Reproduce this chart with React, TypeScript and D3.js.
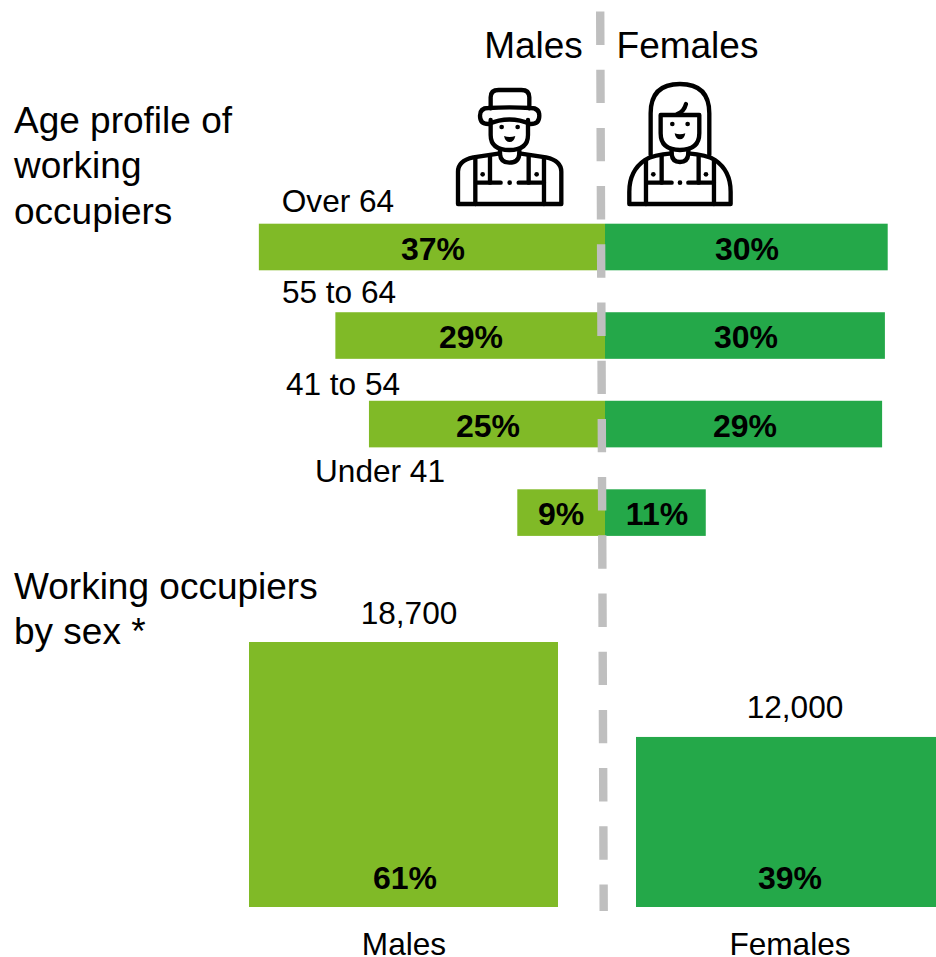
import React from "react";
import * as d3 from "d3";

const ageGroups = ["Over 64", "55 to 64", "41 to 54", "Under 41"];
const maleShare = [37.1, 28.9, 25.3, 9.4];
const femaleShare = [30.3, 30.0, 29.7, 10.8];
const maleLabels = ["37%", "29%", "25%", "9%"];
const femaleLabels = ["30%", "30%", "29%", "11%"];
const sexes = ["Males", "Females"];
const sexCounts = [18700, 12000];
const sexCountLabels = ["18,700", "12,000"];
const sexShareLabels = ["61%", "39%"];

const MALE = "#80BA27";
const FEMALE = "#24A849";
const DASH = "#BFBFBF";
const FONT = "'Liberation Sans', Arial, sans-serif";

const W = 936, H = 957;
const CENTER = 605;
const pct = d3.scaleLinear().domain([0, 40]).range([0, 373.2]);
const rowY = d3.scaleLinear().domain([0, 3]).range([223.7, 489.3]);
const ROW_H = 46.6;
const ageLabelX = [338, 339, 343, 380];
const ageLabelY = [212, 303, 395, 482];
const maleLabelX = [433, 471, 488, 561];
const femaleLabelX = [747, 746, 745, 657];

const countY = d3.scaleLinear().domain([0, 18700]).range([907, 642]);
const sexBarX = [249, 636];
const sexBarW = [309, 300];
const sexLabelX = [404, 790];
const sexCountX = [409, 795];

const dashPath = d3.line()([[600.2, 11.5], [603.7, 911]]) as string;

const iconStroke = { fill: "none", stroke: "#000", strokeWidth: 13, strokeLinecap: "round" as const, strokeLinejoin: "round" as const };

function MaleIcon() {
  return (
    <g transform="translate(440,0) scale(0.3333)">
      <g {...iconStroke}>
        <path d="M152 325 V292 Q152 270 176 270 H244 Q268 270 268 292 V325" />
        <path d="M145 372 Q120 372 120 347 Q120 324 145 324 Q208 320 272 324 Q298 324 298 347 Q298 372 272 372 Q208 345 145 372 Z" />
        <path d="M152 360 V405 Q152 450 208 450 Q264 450 264 405 V360" />
        <path d="M180 450 V462 Q182 488 208 488 Q236 488 238 462 V450" />
        <path d="M180 460 L100 472 Q54 482 54 515 V612 H364 V515 Q364 482 318 472 L238 460" />
        <path d="M106 474 V612 M312 474 V612 M150 466 V548 M266 466 V548" />
        <path d="M108 548 H182 M236 548 H312" />
      </g>
      <g fill="#000">
        <circle cx="185" cy="381" r="7" /><circle cx="233" cy="381" r="7" />
        <path d="M192 408 Q209 414 226 408 Q222 426 209 426 Q196 426 192 408 Z" />
        <circle cx="128" cy="523" r="7" /><circle cx="290" cy="523" r="7" /><circle cx="209" cy="548" r="7" />
      </g>
    </g>
  );
}

function FemaleIcon() {
  return (
    <g transform="translate(440,0) scale(0.3333)">
      <g {...iconStroke}>
        <path d="M632 464 V340 Q632 252 720 252 Q808 252 808 340 V464" />
        <path d="M662 345 H778 V400 Q778 450 720 450 Q662 450 662 400 Z" />
        <path d="M712 342 Q732 335 738 312" />
        <path d="M695 450 V462 Q697 486 720 486 Q743 486 745 462 V450" />
        <path d="M695 460 Q640 464 615 480 Q568 512 568 575 V612 H872 V575 Q872 512 825 480 Q800 464 745 460" />
        <path d="M618 482 V612 M822 482 V612 M665 466 V548 M776 466 V548" />
        <path d="M620 548 H695 M745 548 H822" />
      </g>
      <g fill="#000">
        <circle cx="697" cy="372" r="7" /><circle cx="743" cy="372" r="7" />
        <path d="M704 400 Q720 406 736 400 Q733 418 720 418 Q707 418 704 400 Z" />
        <circle cx="640" cy="523" r="7" /><circle cx="798" cy="523" r="7" /><circle cx="720" cy="548" r="7" />
      </g>
    </g>
  );
}

export default function App() {
  return (
    <svg width={W} height={H} viewBox={`0 0 ${W} ${H}`} fontFamily={FONT}
      style={{ position: "absolute", left: 0, top: 0, display: "block", background: "#fff" }}>
      <g>
        {ageGroups.map((g, i) => (
          <g key={g}>
            <rect x={CENTER - pct(maleShare[i])} y={rowY(i)} width={pct(maleShare[i])} height={ROW_H} fill={MALE} />
            <rect x={CENTER} y={rowY(i)} width={pct(femaleShare[i])} height={ROW_H} fill={FEMALE} />
          </g>
        ))}
        {sexes.map((s, i) => (
          <rect key={s} x={sexBarX[i]} y={countY(sexCounts[i])} width={sexBarW[i]} height={countY(0) - countY(sexCounts[i])} fill={i === 0 ? MALE : FEMALE} />
        ))}
      </g>

      <path d={dashPath} fill="none" stroke={DASH} strokeWidth={8.4} strokeDasharray="33.4 24.8" />

      <g fontSize={37} fill="#000">
        <text x={533.5} y={58} textAnchor="middle">Males</text>
        <text x={687.5} y={58} textAnchor="middle">Females</text>
        <text x={14} y={133}>Age profile of</text>
        <text x={14} y={178}>working</text>
        <text x={14} y={224}>occupiers</text>
        <text x={14} y={599}>Working occupiers</text>
        <text x={14} y={644}>by sex *</text>
      </g>

      <MaleIcon />
      <FemaleIcon />

      <g fontSize={31.6} fill="#000" textAnchor="middle">
        {ageGroups.map((g, i) => (
          <text key={g} x={ageLabelX[i]} y={ageLabelY[i]}>{g}</text>
        ))}
        {sexes.map((s, i) => (
          <g key={s}>
            <text x={sexCountX[i]} y={i === 0 ? 624 : 718}>{sexCountLabels[i]}</text>
            <text x={sexLabelX[i]} y={955}>{s}</text>
          </g>
        ))}
      </g>

      <g fontSize={32} fontWeight="bold" fill="#000" textAnchor="middle">
        {ageGroups.map((g, i) => (
          <g key={g}>
            <text x={maleLabelX[i]} y={rowY(i) + 36}>{maleLabels[i]}</text>
            <text x={femaleLabelX[i]} y={rowY(i) + 36}>{femaleLabels[i]}</text>
          </g>
        ))}
        {sexes.map((s, i) => (
          <text key={s} x={sexLabelX[i] + (i === 0 ? 1 : 0)} y={889}>{sexShareLabels[i]}</text>
        ))}
      </g>
    </svg>
  );
}
